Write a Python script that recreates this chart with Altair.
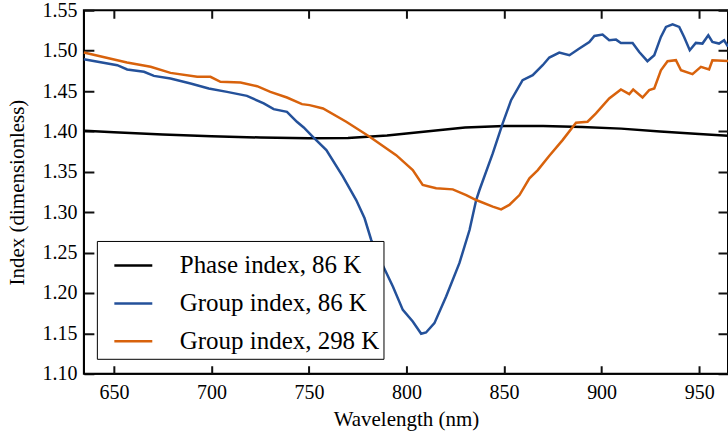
import altair as alt
import pandas as pd

# ---- data ----
series_names = ["Phase index, 86 K", "Group index, 86 K", "Group index, 298 K"]
series_colors = ["#000000", "#24519a", "#d8620c"]

phase_nm = [635, 650, 675, 700, 725, 750, 770, 790, 810, 830, 850, 870, 890, 910, 930, 950, 965]
phase_val = [1.4010, 1.3990, 1.3962, 1.3940, 1.3925, 1.3915, 1.3920, 1.3950, 1.4000, 1.4050,
             1.4068, 1.4066, 1.4055, 1.4035, 1.4000, 1.3968, 1.3946]

g86_nm = [634.6, 651.7, 656.8, 665.4, 670.5, 679.0, 689.3, 698.6, 708.0, 718.2, 726.8, 731.9,
          738.7, 743.8, 747.3, 752.0, 758.9, 767.4, 774.2, 778.5, 781.9, 787.5, 793.0, 798.1,
          803.2, 807.5, 810.0, 814.3, 820.3, 827.1, 832.3, 835.7, 837.4, 844.2, 849.3, 853.6,
          859.5, 864.7, 869.8, 873.2, 878.3, 883.5, 888.6, 893.7, 896.3, 900.5, 903.9, 907.4,
          909.9, 915.9, 919.3, 923.5, 927.0, 930.4, 933.0, 936.4, 939.8, 942.3, 945.2, 948.3,
          951.7, 954.7, 956.8, 960.2, 962.8, 964.8]
g86_val = [1.4894, 1.4820, 1.4767, 1.4738, 1.4688, 1.4656, 1.4594, 1.4532, 1.4490, 1.4441, 1.4347, 1.4276,
           1.4243, 1.4120, 1.4050, 1.3934, 1.3770, 1.3440, 1.3151, 1.2925, 1.2657, 1.2360, 1.2080, 1.1791,
           1.1647, 1.1495, 1.1511, 1.1627, 1.1956, 1.2369, 1.2780, 1.3151, 1.3275, 1.3728, 1.4100, 1.4387,
           1.4635, 1.4696, 1.4820, 1.4915, 1.4977, 1.4944, 1.5027, 1.5108, 1.5182, 1.5200, 1.5129, 1.5137,
           1.5096, 1.5096, 1.4984, 1.4870, 1.4944, 1.5170, 1.5294, 1.5327, 1.5294, 1.5170, 1.5006, 1.5096,
           1.5088, 1.5191, 1.5108, 1.5088, 1.5129, 1.5050]

g298_nm = [634.6, 656.7, 668.8, 679.0, 692.7, 699.5, 704.6, 714.9, 723.4, 730.2, 738.7, 746.4,
           750.3, 757.2, 769.1, 781.1, 794.7, 803.2, 808.3, 815.2, 823.7, 830.6, 835.7, 844.2,
           848.5, 852.7, 857.9, 863.0, 867.3, 873.2, 880.0, 886.9, 892.8, 897.1, 903.9, 909.9,
           914.2, 916.2, 921.0, 924.4, 927.0, 930.4, 933.8, 938.1, 940.7, 946.6, 950.9, 955.1,
           956.8, 964.8]
g298_val = [1.4977, 1.4853, 1.4800, 1.4725, 1.4676, 1.4676, 1.4614, 1.4606, 1.4560, 1.4490, 1.4420, 1.4338,
            1.4326, 1.4285, 1.4120, 1.3934, 1.3707, 1.3522, 1.3337, 1.3296, 1.3283, 1.3213, 1.3151, 1.3069,
            1.3036, 1.3090, 1.3213, 1.3420, 1.3522, 1.3699, 1.3893, 1.4107, 1.4120, 1.4223, 1.4408, 1.4520,
            1.4462, 1.4520, 1.4420, 1.4511, 1.4532, 1.4758, 1.4870, 1.4882, 1.4758, 1.4709, 1.4800, 1.4767,
            1.4882, 1.4873]

x_ticks = [650, 700, 750, 800, 850, 900, 950]
y_ticks = [1.10, 1.15, 1.20, 1.25, 1.30, 1.35, 1.40, 1.45, 1.50, 1.55]

rows = []
for name, xs, ys in [(series_names[0], phase_nm, phase_val),
                     (series_names[1], g86_nm, g86_val),
                     (series_names[2], g298_nm, g298_val)]:
    for i, (a, b) in enumerate(zip(xs, ys)):
        rows.append({"series": name, "nm": a, "idx": b, "o": i})
df = pd.DataFrame(rows)

W, H = 645, 364
FONT = "Liberation Serif"

chart = alt.Chart(df).mark_line(strokeWidth=2.5).encode(
    x=alt.X("nm:Q", scale=alt.Scale(domain=[634.6, 964.8], nice=False, zero=False),
            axis=alt.Axis(orient="bottom", values=x_ticks, ticks=False,
                          grid=True, gridColor="#111111", gridOpacity=1, gridWidth=2,
                          gridDash=[8, H - 16, 8], domain=True, domainColor="black",
                          labelFont=FONT, labelFontSize=20, labelColor="black", labelPadding=9,
                          title="Wavelength (nm)", titleFont=FONT, titleFontSize=21,
                          titleFontWeight="normal", titleColor="black", titlePadding=6)),
    y=alt.Y("idx:Q", scale=alt.Scale(domain=[1.10, 1.55], nice=False, zero=False),
            axis=alt.Axis(orient="left", values=y_ticks, format=".2f", ticks=False,
                          grid=True, gridColor="#111111", gridOpacity=1, gridWidth=2,
                          gridDash=[10, W - 20, 10], domain=True, domainColor="black",
                          labelFont=FONT, labelFontSize=20, labelColor="black", labelPadding=7,
                          title="Index (dimensionless)", titleFont=FONT, titleFontSize=21,
                          titleFontWeight="normal", titleColor="black", titlePadding=14)),
    color=alt.Color("series:N",
                    scale=alt.Scale(domain=series_names, range=series_colors),
                    legend=alt.Legend(title=None, orient="none", legendX=13, legendY=231,
                                      symbolType="stroke", symbolSize=1444,
                                      symbolStrokeWidth=2.5, labelFontSize=25,
                                      labelFont=FONT, labelColor="black", labelLimit=0,
                                      labelOffset=26, rowPadding=4, padding=4,
                                      symbolOffset=12,
                                      strokeColor="black", fillColor="white")),
    order="o:Q",
).properties(
    width=W, height=H,
    autosize=alt.AutoSizeParams(type="none"),
    padding={"left": 84, "top": 10, "right": 0, "bottom": 63},
).configure_view(stroke="black", strokeWidth=2)

chart.save("out.html", embed_options={"renderer": "svg", "actions": False})
